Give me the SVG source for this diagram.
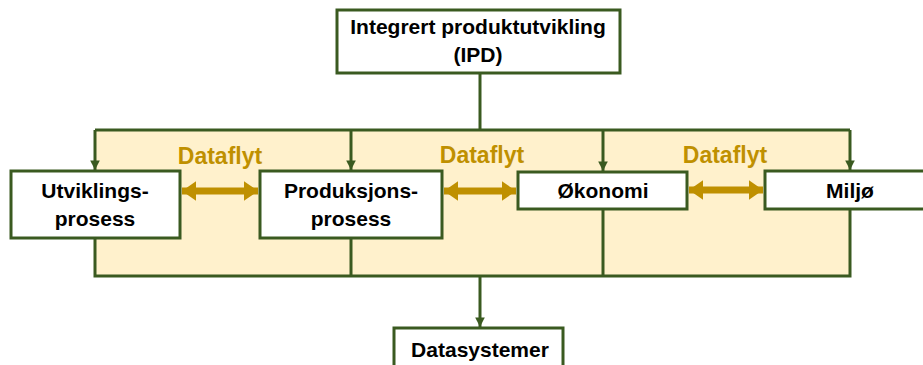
<svg xmlns="http://www.w3.org/2000/svg" width="923" height="365" viewBox="0 0 923 365">
<style>
.box{fill:#fff;stroke:#3A5A20;stroke-width:3}
.ln{fill:none;stroke:#3A5A20;stroke-width:3}
.t{font-family:"Liberation Sans",Arial,sans-serif;font-weight:bold;font-size:21px;fill:#000;text-anchor:middle}
.df{font-family:"Liberation Sans",Arial,sans-serif;font-weight:bold;font-size:23px;fill:#BF9000;text-anchor:middle}
.da{fill:none;stroke:#BF9000;stroke-width:7}
</style>
<defs>
<marker id="ah" viewBox="0 0 10 10" refX="10" refY="5" markerWidth="3.2" markerHeight="3.2" orient="auto" markerUnits="strokeWidth">
<path d="M0,0 L10,5 L0,10 Z" fill="#3A5A20"/>
</marker>
<marker id="dh" viewBox="0 0 10 10" refX="10" refY="5" markerWidth="2" markerHeight="2.8" orient="auto-start-reverse" markerUnits="strokeWidth" preserveAspectRatio="none">
<path d="M0,0 L10,5 L0,10 Z" fill="#BF9000"/>
</marker>
</defs>
<rect x="95" y="130" width="755" height="146" fill="#FFF1CC"/>
<g id="connectors">
<path class="ln" d="M480,73 V130"/>
<path class="ln" d="M95,130 H850"/>
<path class="ln" d="M95,130 V170" marker-end="url(#ah)"/>
<path class="ln" d="M351,130 V170" marker-end="url(#ah)"/>
<path class="ln" d="M603,130 V171" marker-end="url(#ah)"/>
<path class="ln" d="M850,130 V170" marker-end="url(#ah)"/>
<path class="ln" d="M95,238 V276 H850 V209"/>
<path class="ln" d="M351,238 V276"/>
<path class="ln" d="M603,209 V276"/>
<path class="ln" d="M480,276 V327" marker-end="url(#ah)"/>
<path class="da" d="M182,191 H258" marker-start="url(#dh)" marker-end="url(#dh)"/>
<path class="da" d="M444,191 H516" marker-start="url(#dh)" marker-end="url(#dh)"/>
<path class="da" d="M689,190 H763" marker-start="url(#dh)" marker-end="url(#dh)"/>
<text class="df" x="220" y="164">Dataflyt</text>
<text class="df" x="482" y="163">Dataflyt</text>
<text class="df" x="725" y="163">Dataflyt</text>
</g>
<g id="ipd">
<rect class="box" x="337" y="10" width="283" height="63"/>
<text class="t" x="478" y="34">Integrert produktutvikling</text>
<text class="t" x="478" y="62">(IPD)</text>
</g>
<g id="utvikling">
<rect class="box" x="11" y="171" width="169" height="67"/>
<text class="t" x="95" y="198">Utviklings-</text>
<text class="t" x="95" y="226">prosess</text>
</g>
<g id="produksjon">
<rect class="box" x="260" y="171" width="182" height="67"/>
<text class="t" x="351" y="198">Produksjons-</text>
<text class="t" x="351" y="226">prosess</text>
</g>
<g id="okonomi">
<rect class="box" x="518" y="172" width="169" height="37"/>
<text class="t" x="603" y="198">Økonomi</text>
</g>
<g id="miljo">
<rect class="box" x="765" y="171" width="170" height="38"/>
<text class="t" x="850" y="198">Miljø</text>
</g>
<g id="datasystemer">
<rect class="box" x="394" y="328" width="169" height="45"/>
<text class="t" x="480" y="357">Datasystemer</text>
</g>
</svg>
